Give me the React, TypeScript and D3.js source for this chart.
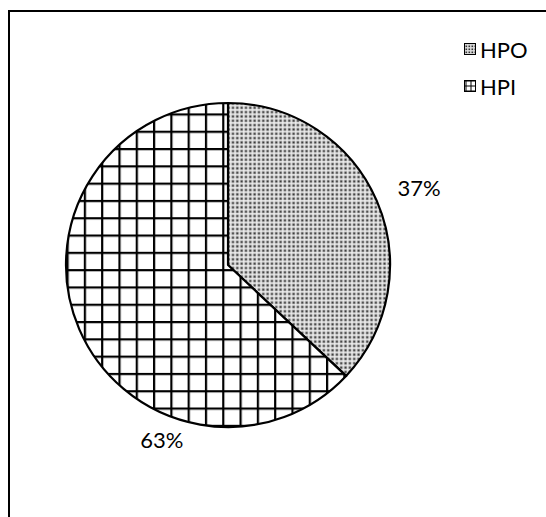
import React from "react";
import * as d3 from "d3";

// Slice data: share of each category, in percent
const categories = ["HPO", "HPI"];
const values = [37, 63];
const labels = ["37%", "63%"];
// Label anchor placement (degrees clockwise from 12 o'clock, distance from centre)
const labelAngles = [68, 200.7];
const labelRadii = [206, 187];

const W = 546;
const H = 517;
const cx = 228;
const cy = 265;
const R = 162;
const FONT = "Lato, 'Open Sans', sans-serif";

export default function App() {
  const pie = d3
    .pie<number>()
    .sort(null)
    .value((d) => d)
    .startAngle(0)
    .endAngle(2 * Math.PI);
  const arcs = pie(values);
  const arc = d3.arc<d3.PieArcDatum<number>>().innerRadius(0).outerRadius(R);
  const fills = ["url(#dots)", "url(#grid)"];
  const legendFills = ["url(#dotsSmall)", "url(#gridSmall)"];
  const legendY = [49, 86];

  return (
    <svg
      width={W}
      height={H}
      style={{ position: "absolute", left: 0, top: 0, background: "#fff" }}
    >
      <defs>
        <pattern
          id="dots"
          patternUnits="userSpaceOnUse"
          width={4.33}
          height={4.33}
          x={cx}
          y={cy}
        >
          <rect width={4.33} height={4.33} fill="#f2f2f2" />
          <rect x={0.5} y={0.5} width={3.2} height={3.2} fill="#a9a9a9" />
          <rect x={1.3} y={1.3} width={1.7} height={1.7} fill="#2e2e2e" />
        </pattern>
        <pattern
          id="grid"
          patternUnits="userSpaceOnUse"
          width={17.3}
          height={17.3}
          x={81.7 - 1}
          y={212.7 - 1}
        >
          <rect width={17.3} height={17.3} fill="#fff" />
          <rect x={0} y={0} width={2.2} height={17.3} fill="#000" />
          <rect x={0} y={0} width={17.3} height={2.2} fill="#000" />
        </pattern>
        <pattern id="dotsSmall" patternUnits="userSpaceOnUse" width={3} height={3}>
          <rect width={3} height={3} fill="#ddd" />
          <rect x={0.5} y={0.5} width={1.6} height={1.6} fill="#333" />
        </pattern>
        <pattern id="gridSmall" patternUnits="userSpaceOnUse" width={5} height={5} x={0.5} y={0.5}>
          <rect width={5} height={5} fill="#fff" />
          <rect x={0} y={0} width={1} height={5} fill="#000" />
          <rect x={0} y={0} width={5} height={1} fill="#000" />
        </pattern>
      </defs>

      {/* chart area frame */}
      <rect x={9} y={11} width={W + 20} height={H + 20} fill="#fff" stroke="#000" strokeWidth={2} />

      <g transform={`translate(${cx},${cy})`}>
        {arcs.map((a, i) => (
          <path
            key={categories[i]}
            d={arc(a) || ""}
            fill={fills[i]}
            stroke="#000"
            strokeWidth={2.2}
            strokeLinejoin="round"
          />
        ))}
        {arcs.map((a, i) => {
          const t = (labelAngles[i] * Math.PI) / 180;
          const x = Math.sin(t) * labelRadii[i];
          const y = -Math.cos(t) * labelRadii[i];
          return (
            <text
              key={"l" + i}
              x={x}
              y={y}
              textAnchor="middle"
              dominantBaseline="central"
              fontFamily={FONT}
              fontSize={22}
              fill="#000"
            >
              {labels[i]}
            </text>
          );
        })}
      </g>

      {/* legend */}
      {categories.map((c, i) => (
        <g key={"lg" + c}>
          <rect
            x={464.5}
            y={legendY[i] - 5.5}
            width={11}
            height={11}
            fill={legendFills[i]}
            stroke="#000"
            strokeWidth={1}
          />
          <text
            x={480}
            y={legendY[i]}
            dominantBaseline="central"
            fontFamily={FONT}
            fontSize={22}
            fill="#000"
          >
            {c}
          </text>
        </g>
      ))}
    </svg>
  );
}
